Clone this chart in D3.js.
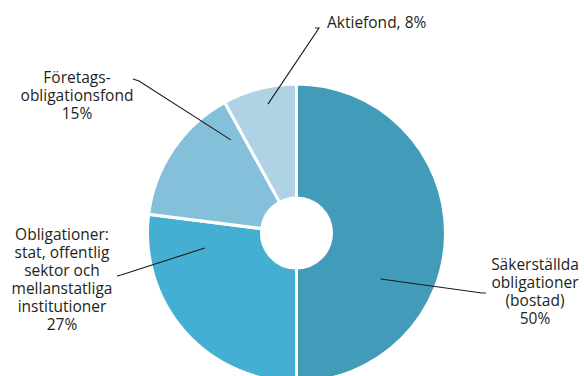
<!DOCTYPE html>
<html>
<head>
<meta charset="utf-8">
<script src="https://cdn.jsdelivr.net/npm/d3@7"></script>
<style>
  html, body { margin: 0; padding: 0; background: #fff; }
  svg text { font-family: "Open Sans", Lato, sans-serif; font-size: 15.5px; fill: #231f20; }
</style>
</head>
<body>
<svg></svg>
<script>
const WIDTH = 584;
const HEIGHT = 376;

// Slices, clockwise from 12 o'clock
const categories = ['Säkerställda obligationer (bostad)', 'Obligationer: stat, offentlig sektor och mellanstatliga institutioner', 'Företagsobligationsfond', 'Aktiefond'];
const shares = [50, 27, 15, 8];
const colors = ['#429bb9', '#45aed3', '#85c0da', '#afd3e5'];

// Label text as shown, one entry per line
const labelLines = [
  ['Säkerställda', 'obligationer', '(bostad)', '50%'],
  ['Obligationer:', 'stat, offentlig', 'sektor och', 'mellanstatliga', 'institutioner', '27%'],
  ['Företags-', 'obligationsfond', '15%'],
  ['Aktiefond, 8%']
];

// Leader line placement: tip angle (deg) / radius, elbow point, text anchor
const labelLayout = [
  {angle: 118.6, r: 96, elbow: [482, 293], tick: [486, 293], tx: 535, ty: 270, anchor: 'middle'},
  {angle: 260.7, r: 93, elbow: [121, 275], tick: [117, 276], tx: 62, ty: 240, anchor: 'middle'},
  {angle: 324.8, r: 114, elbow: [139, 81], tick: [133, 79], tx: 77, ty: 83, anchor: 'middle'},
  {angle: 347.5, r: 132, elbow: [319, 28], tick: [315, 28], tx: 327, ty: 28, anchor: 'start'}
];

const LINE_HEIGHT = 18;
const cx = 296.5, cy = 233;
const outerR = 149, innerR = 35;

const svg = d3.select('svg')
    .attr('width', WIDTH)
    .attr('height', HEIGHT);

const pie = d3.pie().sort(null).value((d) => d);
const arc = d3.arc().innerRadius(innerR).outerRadius(outerR);

const g = svg.append('g')
    .attr('transform', `translate(${cx},${cy})`);

g.selectAll('path')
    .data(pie(shares))
  .join('path')
    .attr('d', arc)
    .attr('fill', (d, i) => colors[i])
    .attr('stroke', '#fff')
    .attr('stroke-width', 3);

// leader lines
svg.append('g').selectAll('polyline')
    .data(labelLayout)
  .join('polyline')
    .attr('points', (d) => {
      const [x, y] = d3.pointRadial(d.angle * Math.PI / 180, d.r);
      return [[cx + x, cy + y], d.elbow, d.tick].map((p) => p.join(',')).join(' ');
    })
    .attr('fill', 'none')
    .attr('stroke', '#1a1a1a')
    .attr('stroke-width', 1.1);

// labels
const labels = svg.append('g').selectAll('text')
    .data(labelLayout)
  .join('text')
    .attr('text-anchor', (d) => d.anchor)
    .attr('x', (d) => d.tx)
    .attr('y', (d) => d.ty);

labels.selectAll('tspan')
    .data((d, i) => labelLines[i].map((t) => ({t, x: d.tx})))
  .join('tspan')
    .attr('x', (d) => d.x)
    .attr('dy', (d, i) => i === 0 ? 0 : LINE_HEIGHT)
    .text((d) => d.t);
</script>
</body>
</html>
